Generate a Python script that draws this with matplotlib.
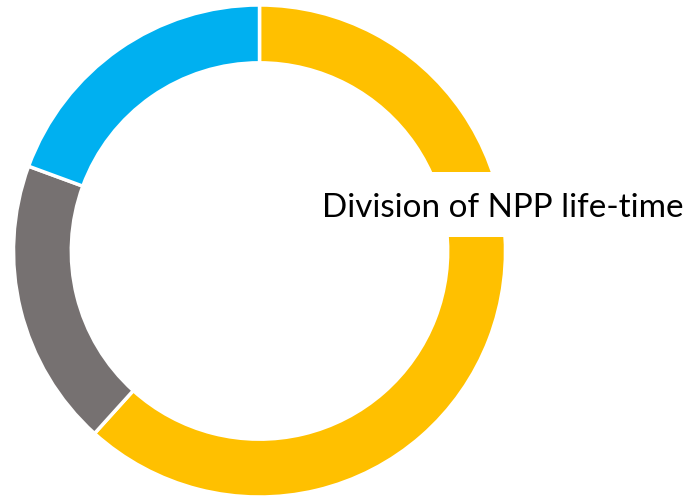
import matplotlib
matplotlib.use('Agg')
import matplotlib.pyplot as plt
from matplotlib.patches import Rectangle

plt.rcParams['font.family'] = ['Lato', 'DejaVu Sans']

labels = ['Operation', 'Phase 2', 'Phase 3']
shares = [61.7, 18.9, 19.4]
colors = ['#FFC000', '#767171', '#00B0F0']
title = 'Division of NPP life-time'

W, H = 687, 500
fig = plt.figure(figsize=(W / 100, H / 100), dpi=100)

cx, cy, r = 259.5, 251, 246
ax = fig.add_axes([(cx - r) / W, (H - cy - r) / H, 2 * r / W, 2 * r / H])
ax.pie(shares, colors=colors, startangle=90, counterclock=False, radius=1,
       wedgeprops=dict(width=0.235, edgecolor='white', linewidth=2.5))
ax.set_xlim(-1, 1)
ax.set_ylim(-1, 1)
ax.set_aspect('equal')
ax.axis('off')

# white label box laid over the ring
fig.patches.append(Rectangle((310 / W, (H - 237) / H), (W - 310) / W, 65 / H,
                             transform=fig.transFigure, facecolor='white',
                             edgecolor='none', zorder=5))
t = fig.text(322 / W, (H - 217) / H, title, fontsize=24, color='black',
             ha='left', va='baseline', zorder=6)

# shrink the font so the label spans the same width as in the original
renderer = fig.canvas.get_renderer()
w = t.get_window_extent(renderer).width
t.set_fontsize(24 * 362 / w)

fig.savefig('out.png', dpi=100)
